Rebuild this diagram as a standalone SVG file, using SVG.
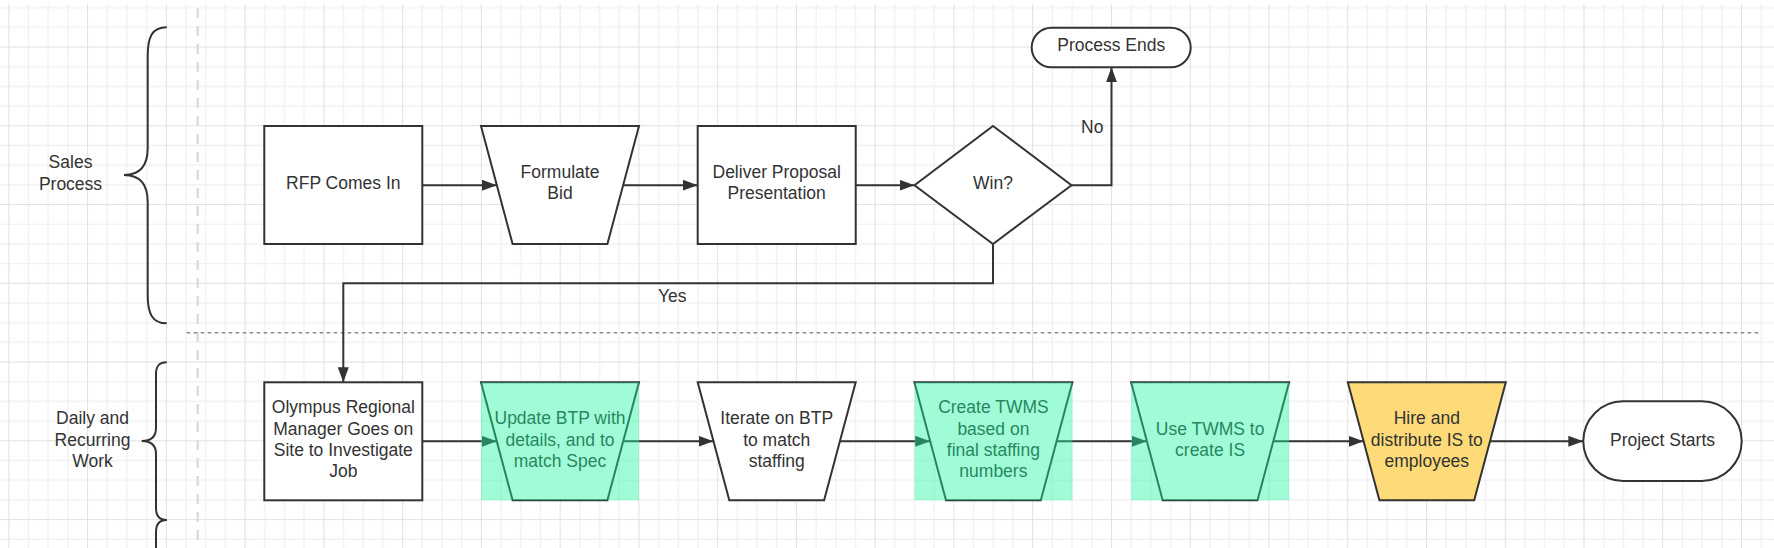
<svg xmlns="http://www.w3.org/2000/svg" width="1774" height="548" viewBox="0 0 1774 548">
  <style>
    .t { font-family: "Liberation Sans", Arial, sans-serif; font-size: 17.5px; fill: #333333; text-anchor: middle; }
    .shape { fill: #ffffff; stroke: #333333; stroke-width: 2; }
    .line { fill: none; stroke: #333333; stroke-width: 2; }
    .brace { fill: none; stroke: #333333; stroke-width: 2; }
    .hl { fill: #1af89d; fill-opacity: 0.42; }
  </style>
  <defs>
    <pattern id="grid" patternUnits="userSpaceOnUse" x="8.3" y="46.5" width="78.76" height="78.76">
      <rect x="0" y="0" width="78.76" height="78.76" fill="#ffffff"/>
      <rect x="19.69" y="0" width="1" height="78.76" fill="#ededed"/>
      <rect x="39.38" y="0" width="1" height="78.76" fill="#ededed"/>
      <rect x="59.07" y="0" width="1" height="78.76" fill="#ededed"/>
      <rect x="0" y="19.69" width="78.76" height="1" fill="#ededed"/>
      <rect x="0" y="39.38" width="78.76" height="1" fill="#ededed"/>
      <rect x="0" y="59.07" width="78.76" height="1" fill="#ededed"/>
      <rect x="0" y="0" width="1" height="78.76" fill="#e1e1e1"/>
      <rect x="0" y="0" width="78.76" height="1" fill="#e1e1e1"/>
    </pattern>
    <marker id="arrow" markerUnits="userSpaceOnUse" markerWidth="16" markerHeight="12" refX="15" refY="5.5" orient="auto">
      <path d="M0,0 L15,5.5 L0,11 Z" fill="#333333"/>
    </marker>
  </defs>

  <g id="background">
    <rect x="0" y="0" width="1774" height="548" fill="#ffffff"/>
    <rect x="0" y="4" width="1774" height="544" fill="url(#grid)"/>
    <line x1="197.7" y1="8" x2="197.7" y2="548" stroke="#dcdcdc" stroke-width="2.5" stroke-dasharray="10 8"/>
    <line x1="186.7" y1="332.7" x2="1761.7" y2="332.7" stroke="#8a8a8a" stroke-width="1.5" stroke-dasharray="3.5 3.5"/>
  </g>

  <g id="lane-sales">
    <path class="brace" d="M166.7,27.3 C152,27.3 147.7,37 147.7,56 L147.7,148 C147.7,166 140,175 124,175 C140,175 147.7,184 147.7,202 L147.7,295 C147.7,313 152,323.3 166.7,323.3"/>
    <text class="t" x="70.5" y="168.3">Sales</text>
    <text class="t" x="70.5" y="189.8">Process</text>
  </g>

  <g id="lane-daily">
    <path class="brace" d="M166.7,362.3 C159,362.3 156,366 156,374 L156,428 C156,436 152,441 141.7,441 C152,441 156,446 156,454 L156,508 C156,516 159,520 166.7,520"/>
    <path class="brace" d="M166.7,520 C159,520 156,524 156,532 L156,550"/>
    <text class="t" x="92.5" y="424.3">Daily and</text>
    <text class="t" x="92.5" y="445.5">Recurring</text>
    <text class="t" x="92.5" y="466.7">Work</text>
  </g>

  <g id="connectors">
    <path class="line" marker-end="url(#arrow)" d="M422.3,185.2 L496.8,185.2"/>
    <path class="line" marker-end="url(#arrow)" d="M623.2,185.2 L697.7,185.2"/>
    <path class="line" marker-end="url(#arrow)" d="M855.7,185.2 L914.5,185.2"/>
    <path class="line" marker-end="url(#arrow)" d="M1071.5,185.2 L1111.5,185.2 L1111.5,67.3"/>
    <path class="line" marker-end="url(#arrow)" d="M993,244 L993,283.3 L343.3,283.3 L343.3,382.3"/>
    <path class="line" marker-end="url(#arrow)" d="M422.3,441.3 L496.8,441.3"/>
    <path class="line" marker-end="url(#arrow)" d="M623.2,441.3 L713.5,441.3"/>
    <path class="line" marker-end="url(#arrow)" d="M839.9,441.3 L930.2,441.3"/>
    <path class="line" marker-end="url(#arrow)" d="M1056.6,441.3 L1146.9,441.3"/>
    <path class="line" marker-end="url(#arrow)" d="M1273.3,441.3 L1363.6,441.3"/>
    <path class="line" marker-end="url(#arrow)" d="M1489.9,441.3 L1583.3,441.3"/>
    <text class="t" x="1092.3" y="132.7">No</text>
    <text class="t" x="672.3" y="301.7">Yes</text>
  </g>

  <g id="node-rfp">
    <rect class="shape" x="264.3" y="126" width="158" height="118"/>
    <text class="t" x="343.3" y="189.2">RFP Comes In</text>
  </g>

  <g id="node-formulate-bid">
    <polygon class="shape" points="481,126 639,126 607.4,244 512.6,244"/>
    <text class="t" x="560" y="177.7">Formulate</text>
    <text class="t" x="560" y="199.2">Bid</text>
  </g>

  <g id="node-deliver-proposal">
    <rect class="shape" x="697.7" y="126" width="158" height="118"/>
    <text class="t" x="776.7" y="177.7">Deliver Proposal</text>
    <text class="t" x="776.7" y="199.2">Presentation</text>
  </g>

  <g id="node-win">
    <polygon class="shape" points="993,126 1071.5,185.2 993,244 914.5,185.2"/>
    <text class="t" x="993" y="189.2">Win?</text>
  </g>

  <g id="node-process-ends">
    <rect class="shape" x="1031.7" y="27.7" width="159" height="39.6" rx="19.8" ry="19.8"/>
    <text class="t" x="1111.2" y="51.2">Process Ends</text>
  </g>

  <g id="node-olympus">
    <rect class="shape" x="264.3" y="382.3" width="158" height="118"/>
    <text class="t" x="343.3" y="413.3">Olympus Regional</text>
    <text class="t" x="343.3" y="434.6">Manager Goes on</text>
    <text class="t" x="343.3" y="455.9">Site to Investigate</text>
    <text class="t" x="343.3" y="477.2">Job</text>
  </g>

  <g id="node-update-btp">
    <polygon class="shape" points="481,382.3 639,382.3 607.4,500.3 512.6,500.3"/>
    <text class="t" x="560" y="424.3">Update BTP with</text>
    <text class="t" x="560" y="445.5">details, and to</text>
    <text class="t" x="560" y="466.7">match Spec</text>
    <rect class="hl" x="481" y="382.3" width="158" height="118"/>
  </g>

  <g id="node-iterate-btp">
    <polygon class="shape" points="697.7,382.3 855.7,382.3 824.1,500.3 729.3,500.3"/>
    <text class="t" x="776.7" y="424.3">Iterate on BTP</text>
    <text class="t" x="776.7" y="445.5">to match</text>
    <text class="t" x="776.7" y="466.7">staffing</text>
  </g>

  <g id="node-create-twms">
    <polygon class="shape" points="914.4,382.3 1072.4,382.3 1040.8,500.3 946,500.3"/>
    <text class="t" x="993.4" y="413.3">Create TWMS</text>
    <text class="t" x="993.4" y="434.6">based on</text>
    <text class="t" x="993.4" y="455.9">final staffing</text>
    <text class="t" x="993.4" y="477.2">numbers</text>
    <rect class="hl" x="914.4" y="382.3" width="158" height="118"/>
  </g>

  <g id="node-use-twms">
    <polygon class="shape" points="1131.1,382.3 1289.1,382.3 1257.5,500.3 1162.7,500.3"/>
    <text class="t" x="1210.1" y="434.6">Use TWMS to</text>
    <text class="t" x="1210.1" y="455.9">create IS</text>
    <rect class="hl" x="1131.1" y="382.3" width="158" height="118"/>
  </g>

  <g id="node-hire">
    <polygon class="shape" style="fill:#fedb78" points="1347.8,382.3 1505.8,382.3 1474.2,500.3 1379.4,500.3"/>
    <text class="t" x="1426.8" y="424.3">Hire and</text>
    <text class="t" x="1426.8" y="445.5">distribute IS to</text>
    <text class="t" x="1426.8" y="466.7">employees</text>
  </g>

  <g id="node-project-starts">
    <rect class="shape" x="1583.3" y="401.3" width="158.4" height="79.6" rx="39.8" ry="39.8"/>
    <text class="t" x="1662.5" y="445.5">Project Starts</text>
  </g>
</svg>
